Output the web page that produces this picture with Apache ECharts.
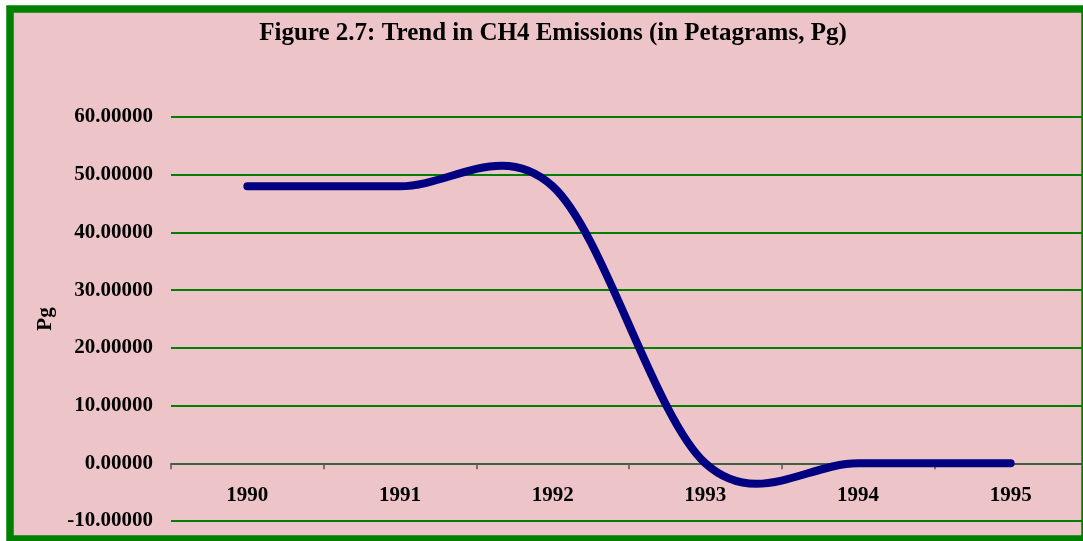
<!DOCTYPE html>
<html>
<head>
<meta charset="utf-8">
<script src="https://cdn.jsdelivr.net/npm/echarts@6/dist/echarts.min.js"></script>
<style>
  html, body { margin: 0; padding: 0; background: #fff; }
  #chart { width: 1083px; height: 541px; }
</style>
</head>
<body>
<div id="chart"></div>
<script>
// data
const years = ['1990', '1991', '1992', '1993', '1994', '1995'];
const emissions = [48, 48, 48, 0, 0, 0];
const yTicks = { min: -10, max: 60, interval: 10 };

const serif = '"Liberation Serif", "DejaVu Serif", serif';
const labelFont = { fontFamily: serif, fontWeight: 'bold', fontSize: 21, color: '#000' };

// excel-like smoothing (cardinal spline, overshoots like the original)
function smoothPath(pts) {
  let d = 'M' + pts[0][0] + ' ' + pts[0][1];
  for (let i = 0; i < pts.length - 1; i++) {
    const p0 = pts[i - 1] || pts[i];
    const p1 = pts[i];
    const p2 = pts[i + 1];
    const p3 = pts[i + 2] || pts[i + 1];
    const c1 = [p1[0] + (p2[0] - p0[0]) / 6, p1[1] + (p2[1] - p0[1]) / 6];
    const c2 = [p2[0] - (p3[0] - p1[0]) / 6, p2[1] - (p3[1] - p1[1]) / 6];
    d += ' C' + c1[0] + ' ' + c1[1] + ' ' + c2[0] + ' ' + c2[1] + ' ' + p2[0] + ' ' + p2[1];
  }
  return d;
}

const myChart = echarts.init(document.getElementById('chart'));
myChart.setOption({
  backgroundColor: '#ffffff',
  animation: false,
  title: {
    text: 'Figure 2.7: Trend in CH4 Emissions (in Petagrams, Pg)',
    left: 548,
    textAlign: 'center',
    top: 16,
    textStyle: { fontFamily: serif, fontWeight: 'bold', fontSize: 25, color: '#000' }
  },
  graphic: [
    {
      type: 'rect',
      z: -10,
      shape: { x: 10, y: 9, width: 1075, height: 530 },
      style: { fill: '#edc5c9', stroke: '#008000', lineWidth: 7.5 }
    }
  ],
  grid: { left: 171, top: 117, width: 916, height: 404, outerBoundsMode: 'none', containLabel: false },
  xAxis: [
    {
      type: 'category',
      data: years,
      boundaryGap: true,
      axisLine: { onZero: true, lineStyle: { color: '#555', width: 1.5 } },
      axisTick: { show: true, length: 6, lineStyle: { color: '#555', width: 1.5 } },
      axisLabel: { show: false },
      splitLine: { show: false }
    },
    {
      // labels sit just under the zero line, as in the original
      type: 'category',
      data: years,
      boundaryGap: true,
      position: 'bottom',
      offset: -58,
      axisLine: { show: false },
      axisTick: { show: false },
      axisLabel: Object.assign({ margin: 22 }, labelFont),
      splitLine: { show: false }
    }
  ],
  yAxis: {
    type: 'value',
    min: yTicks.min,
    max: yTicks.max,
    interval: yTicks.interval,
    name: 'Pg',
    nameLocation: 'middle',
    nameRotate: 90,
    nameGap: 111,
    nameTextStyle: labelFont,
    axisLine: { show: false },
    axisTick: { show: false },
    axisLabel: Object.assign({ margin: 18, formatter: v => v.toFixed(5) }, labelFont),
    splitLine: { lineStyle: { color: '#008000', width: 2 } }
  },
  series: [
    {
      type: 'custom',
      data: emissions.map((v, i) => [i, v]),
      z: 5,
      renderItem: (params, api) => {
        if (params.dataIndex !== 0) return null;
        const pts = emissions.map((v, i) => api.coord([i, v]));
        return {
          type: 'path',
          shape: { pathData: smoothPath(pts) },
          style: { fill: null, stroke: '#000080', lineWidth: 8, lineCap: 'round', lineJoin: 'round' }
        };
      }
    }
  ]
});
</script>
</body>
</html>
